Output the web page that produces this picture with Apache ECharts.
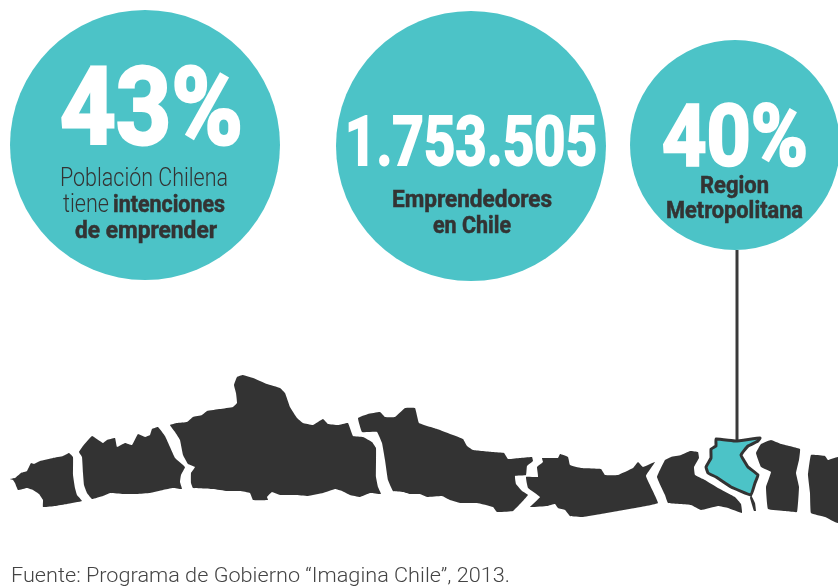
<!DOCTYPE html>
<html><head><meta charset="utf-8">
<style>html,body{margin:0;padding:0;background:#fff}#c{width:838px;height:586px}</style>
<script src="https://cdn.jsdelivr.net/npm/echarts@6/dist/echarts.min.js"></script>
</head><body><div id="c"></div>
<script>
// Stat values shown in the three circles
const statNames = ['Población con intenciones de emprender', 'Emprendedores en Chile', 'Region Metropolitana'];
const statValues = [43, 1753505, 40];
const statLabels = ['43%', '1.753.505', '40%'];
const sourceNote = 'Fuente: Programa de Gobierno “Imagina Chile”, 2013.';

// Region outlines (axis units)
const regionA = [[10,479],[15,478],[21,473],[27,471],[31,463],[34,464],[40,461],[53,458],[63,456],[69,453],[73,457],[73,475],[75,488],[77,495],[82,501],[67,504],[55,506],[43,507],[43,500],[39,494],[33,490],[27,488],[18,490],[15,483],[13,480]];
const regionB = [[79,452],[83,446],[92,436],[103,443],[107,440],[115,438],[117,447],[125,443],[132,445],[138,434],[145,437],[150,435],[152,429],[158,427],[165,436],[170,447],[175,458],[185,467],[181,475],[180,482],[182,489],[173,488],[163,490],[150,493],[137,494],[123,494],[110,493],[103,496],[92,499],[87,493],[84,485],[83,473],[82,457]];
const regionC = [[170,425],[177,423],[187,422],[193,417],[202,415],[207,411],[220,409],[233,407],[237,403],[236,393],[234,385],[237,377],[243,375],[253,378],[267,384],[280,388],[285,393],[290,407],[297,418],[303,423],[313,425],[323,419],[328,424],[338,425],[348,423],[353,436],[363,437],[372,442],[376,448],[376,477],[378,487],[381,494],[370,493],[360,497],[350,495],[342,491],[335,489],[323,493],[308,496],[295,495],[280,495],[272,492],[267,497],[268,500],[253,500],[250,493],[240,491],[227,491],[213,489],[193,488],[191,483],[191,473],[195,467],[188,464],[183,455],[180,440],[175,432]];
const regionD = [[358,418],[368,414],[380,412],[385,417],[395,417],[405,408],[415,408],[419,423],[437,429],[463,439],[467,446],[473,450],[493,452],[504,453],[508,459],[520,458],[532,457],[533,461],[527,466],[526,475],[515,476],[516,484],[522,491],[528,495],[513,511],[497,512],[493,507],[477,503],[460,503],[450,500],[442,496],[427,497],[420,494],[410,494],[403,492],[393,491],[388,480],[385,460],[382,443],[377,432],[362,432]];
const regionE = [[542,458],[558,458],[560,454],[568,457],[570,465],[581,468],[601,469],[605,475],[618,475],[633,468],[638,462],[643,467],[655,462],[646,476],[658,503],[635,508],[618,511],[601,514],[583,517],[570,516],[565,510],[558,508],[555,504],[547,506],[530,507],[540,497],[528,488],[526,477],[538,477],[537,467],[543,462]];
const regionF = [[657,477],[665,460],[671,457],[681,455],[690,451],[698,452],[699,458],[694,467],[695,475],[705,480],[718,488],[735,497],[741,504],[742,513],[728,508],[718,506],[701,510],[691,505],[668,503],[665,495]];
const regionMetro = [[716,439],[736,441],[760,438],[758,441],[748,446],[741,455],[748,467],[758,475],[755,483],[751,495],[731,487],[716,477],[708,473],[706,467],[711,458],[711,449],[716,446]];
const regionSliver = [[751,495],[755,503],[756,511],[754,511],[750,498]];
const regionH = [[756,453],[761,444],[771,440],[781,444],[800,449],[799,460],[796,473],[799,487],[797,512],[785,511],[768,509],[766,487],[771,472],[761,467]];
const regionI = [[808,475],[811,455],[825,456],[828,460],[838,457],[838,523],[825,517],[811,513],[810,493]];
const darkRegions = [regionA, regionB, regionC, regionD, regionE, regionF, regionSliver, regionH, regionI];

const TEAL = '#4cc3c7', DARK = '#333333';
const FONT = 'Roboto, sans-serif';
const SMOOTH = 0.08;

// Layout: centres and diameters of the circles, connector, text placement
const circleLayout = [[145,145,270],[471,146,270],[735,145,210]];
const connector = [[737,250],[737,440]];
const textLayout = [
  {t: statLabels[0], x:60, w:183, y:117, s:107, b:700, c:'#fff', o:3},
  {t: 'Población Chilena', x:60, w:168, y:180, s:25, b:300, c:DARK},
  {t: 'tiene', x:63, w:46, y:206, s:25, b:300, c:DARK},
  {t: 'intenciones', x:113, w:112, y:206, s:23, b:700, c:DARK, o:0.5},
  {t: 'de emprender', x:75, w:142, y:232, s:23, b:700, c:DARK, o:0.5},
  {t: statLabels[1], x:345, w:252, y:148, s:69, b:700, c:'#fff', o:2},
  {t: 'Emprendedores', x:392, w:160, y:201, s:23, b:700, c:DARK, o:0.5},
  {t: 'en Chile', x:433, w:78, y:227, s:23, b:700, c:DARK, o:0.5},
  {t: statLabels[2], x:662, w:146, y:143, s:86, b:700, c:'#fff', o:2.5},
  {t: 'Region', x:700, w:69, y:187, s:23, b:700, c:DARK, o:0.5},
  {t: 'Metropolitana', x:666, w:137, y:212, s:23, b:700, c:DARK, o:0.5},
  {t: sourceNote, x:11, w:499, y:577, s:21, b:300, c:'#444444'}
];

const mctx = document.createElement('canvas').getContext('2d');
function fitScale(d){
  mctx.font = d.b + ' ' + d.s + 'px ' + FONT;
  return d.w / mctx.measureText(d.t).width;
}

const chart = echarts.init(document.getElementById('c'), null, {renderer:'canvas'});
chart.setOption({
  animation:false,
  backgroundColor:'#fff',
  grid:{left:0,right:0,top:0,bottom:0},
  xAxis:{type:'value',min:0,max:838,show:false},
  yAxis:{type:'value',min:0,max:586,inverse:true,show:false},
  tooltip:{show:false},
  series:[
    {type:'line', data:connector, symbol:'none', z:1, lineStyle:{color:'#3a3a3a',width:3}, silent:true},
    {type:'scatter', z:2, silent:true,
      data: circleLayout.map((c,i)=>({name:statNames[i], value:[c[0],c[1],statValues[i]]})),
      symbol:'circle',
      symbolSize:(v,p)=>circleLayout[p.dataIndex][2],
      itemStyle:{color:TEAL,opacity:1}},
    {type:'custom', z:3, silent:true, clip:true,
      data: darkRegions.map((r,i)=>({value:[r[0][0],r[0][1]]})),
      renderItem:function(params, api){
        const pts = darkRegions[params.dataIndex];
        return {type:'polygon', shape:{points: pts.map(p=>api.coord(p)), smooth:SMOOTH}, style:{fill:DARK}};
      }},
    {type:'custom', z:4, silent:true,
      data:[{name:statNames[2], value:[regionMetro[0][0],regionMetro[0][1]]}],
      renderItem:function(params, api){
        return {type:'polygon', shape:{points: regionMetro.map(p=>api.coord(p)), smooth:SMOOTH},
          style:{fill:TEAL, stroke:DARK, lineWidth:3}};
      }},
    {type:'custom', z:5, silent:true,
      data: textLayout.map(d=>({value:[d.x,d.y]})),
      renderItem:function(params, api){
        const d = textLayout[params.dataIndex];
        const p = api.coord([d.x,d.y]);
        const style = {text:d.t, fontFamily:FONT, fontSize:d.s, fontWeight:d.b, fill:d.c, align:'left', verticalAlign:'middle'};
        if (d.o) { style.stroke = d.c; style.lineWidth = d.o; }
        return {type:'text', x:p[0], y:p[1], scaleX:fitScale(d), scaleY:1, style:style};
      }}
  ]
});
</script></body></html>
